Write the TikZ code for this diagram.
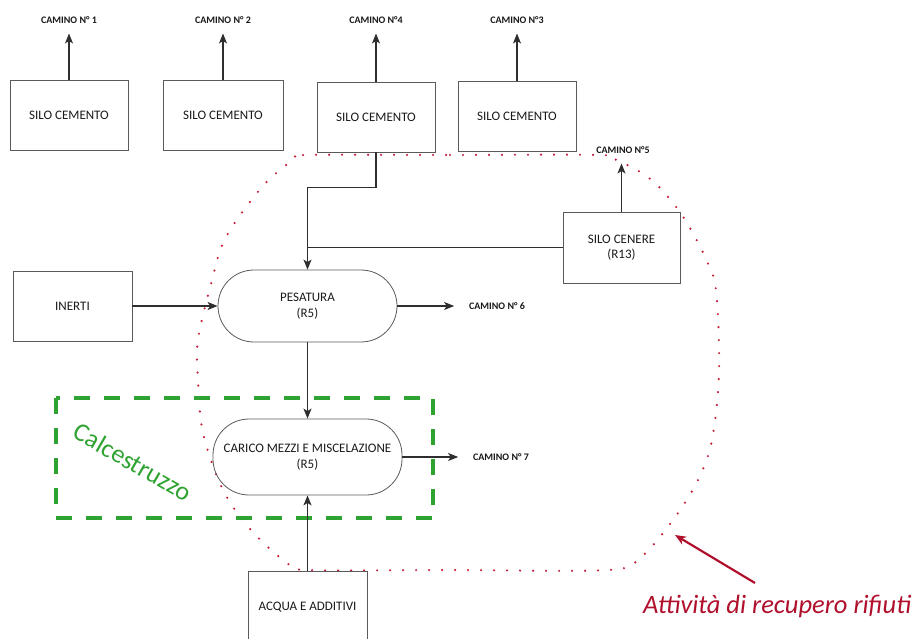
\documentclass[tikz,border=0pt]{standalone}
\usepackage{fontspec}
\setmainfont{Carlito}
\usetikzlibrary{arrows.meta}
\definecolor{boxgrey}{HTML}{5A5A5A}
\definecolor{flowgrey}{HTML}{2E2E2E}
\definecolor{loopred}{HTML}{C41E3A}
\definecolor{labelred}{HTML}{B0102C}
\definecolor{calcegreen}{HTML}{2FA332}

\begin{document}
\begin{tikzpicture}[x=1pt, y=-1pt,
  silobox/.style={draw=boxgrey, line width=0.8pt, minimum width=118pt, minimum height=70pt, align=center, font=\fontsize{13}{15.5}\selectfont, text=black!90},
  stagebox/.style={silobox, rounded corners=36pt},
  camlab/.style={font=\fontsize{10}{12}\selectfont\bfseries, text=black!90, inner sep=1pt, outer xsep=14pt, outer ysep=9pt},
  flow/.style={draw=flowgrey, line width=1.3pt, -{Stealth[length=10pt, width=8pt, inset=2.5pt]}},
  link/.style={draw=flowgrey, line width=1.3pt},
  calcebox/.style={draw=calcegreen, line width=3.5pt, dash pattern=on 16pt off 14pt},
  recupero/.style={draw=loopred, line width=2.4pt, line cap=round, dash pattern=on 0pt off 13pt},
  pointer/.style={draw=labelred, line width=2.2pt, -{Stealth[length=11pt, width=9pt]}}]
\useasboundingbox (0,0) rectangle (919,639);

% area of the recovery activity
\draw[recupero] plot[smooth cycle, tension=0.55] coordinates {
  (305,155) (450,155) (600,155) (616,160) (637,170) (655,183) (673,203)
  (687,223) (705,257) (716,290) (719,373) (712,440) (698,480) (673,520)
  (641,557) (608,570) (450,570) (308,570) (287,563) (251,530) (223,490)
  (203,433) (198,380) (198,340) (212,280) (226,237) (262,187) (294,159)};
\draw[calcebox] (56,398) rectangle (433,518);
\node[rotate=-30, text=calcegreen, font=\fontsize{26}{30}\selectfont] (calce) at (133,462) {Calcestruzzo};

% silos
\node[silobox] (siloA) at (69,115) {SILO CEMENTO};
\node[silobox, minimum width=120pt] (siloB) at (223,115) {SILO CEMENTO};
\node[silobox] (siloC) at (376,117) {SILO CEMENTO};
\node[silobox] (siloD) at (517,116) {SILO CEMENTO};
\node[silobox, minimum width=117pt, minimum height=71pt] (cenere) at (621.5,247.5) {SILO CENERE\\(R13)};
\node[silobox, minimum width=119pt] (inerti) at (72.5,306) {INERTI};
\node[stagebox, minimum width=179pt, minimum height=72pt] (pesatura) at (307.5,306) {PESATURA\\(R5)};
\node[stagebox, minimum width=189pt, minimum height=76pt] (carico) at (307.5,457) {CARICO MEZZI E MISCELAZIONE\\(R5)};
\node[silobox, minimum width=119pt, minimum height=72pt] (acqua) at (307.5,607) {ACQUA E ADDITIVI};

% stacks
\node[camlab] (cam1) at (69,20) {CAMINO N° 1};
\node[camlab] (cam2) at (223,20) {CAMINO N° 2};
\node[camlab] (cam4) at (376,20) {CAMINO N°4};
\node[camlab] (cam3) at (517,20) {CAMINO N°3};
\node[camlab] (cam5) at (623,150) {CAMINO N°5};
\node[camlab] (cam6) at (497,306) {CAMINO N° 6};
\node[camlab] (cam7) at (501,457) {CAMINO N° 7};

\draw[flow] (siloA) -- (cam1);
\draw[flow] (siloB) -- (cam2);
\draw[flow] (siloC) -- (cam4);
\draw[flow] (siloD) -- (cam3);
\draw[flow] (cenere.north) -- (cenere.north |- cam5.south);
\draw[flow] (pesatura) -- (cam6);
\draw[flow] (carico) -- (cam7);

% material flow
\draw[flow] (siloC.south) -- ++(0,35) -| (pesatura.north);
\draw[link] (cenere.west) -- (cenere.west -| pesatura.north);
\draw[flow] (inerti) -- (pesatura);
\draw[flow] (pesatura) -- (carico);
\draw[flow] (acqua) -- (carico);

% label
\node[font=\itshape\fontsize{26.5}{30}\selectfont, text=labelred, anchor=base west, inner sep=0pt] (attivita) at (643,613) {Attività di recupero rifiuti};
\coordinate (tail) at (755,583);
\coordinate (loopmark) at (675,535);
\draw[pointer] (tail) -- (loopmark);
\end{tikzpicture}
\end{document}
